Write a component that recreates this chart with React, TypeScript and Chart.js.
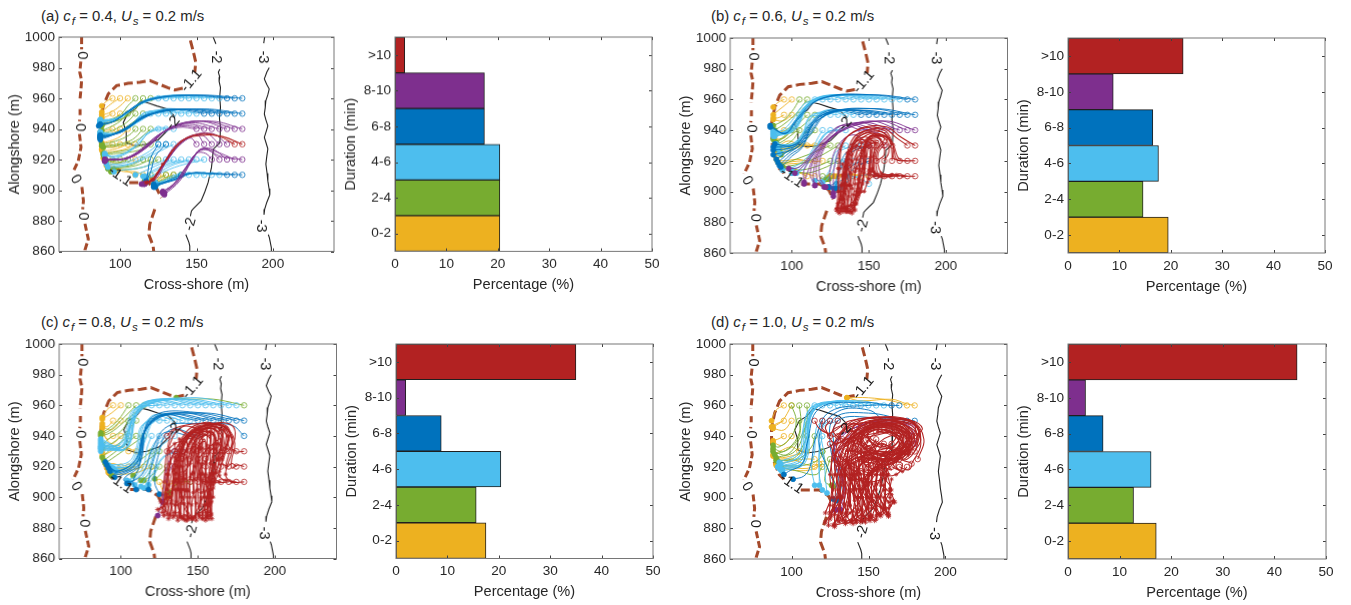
import React, { useEffect, useRef } from "react";
import { Chart, registerables } from "chart.js";
Chart.register(...registerables);

const FONT = "'Liberation Sans', Arial, sans-serif";
const INK = "#262626";
const durationLabels = ["0-2", "2-4", "4-6", "6-8", "8-10", ">10"];
const barColors = ["#EDB120", "#77AC30", "#4DBEEE", "#0072BD", "#7E2F8E", "#B22222", "#B22222"];
const pctA = [20.4, 20.4, 20.4, 17.4, 17.4, 1.9];
const pctB = [19.5, 14.6, 17.6, 16.5, 8.8, 22.4];
const pctC = [17.5, 15.6, 20.4, 8.8, 1.9, 35];
const pctD = [17.1, 12.7, 16.1, 6.8, 3.4, 44.4];
const mapXTicks = [100, 150, 200];
const mapYTicks = [860, 880, 900, 920, 940, 960, 980, 1000];

const zeroContour = [
  [74.8,1000,74.8,992],
  [74.3,984,73.6,977,74.8,971.6,74.3,965,73.6,958],
  [73.8,953,73.8,949],[73.5,946,73.4,945],
  [73.4,936.6,74.4,928,72.6,919,69,911.5],
  [75,902,76,893,75.5,887.5],
  [77,878,79.2,868,77,861,77,860],
];
const shallowContour = [
  [146,997.8,147.8,991,149.5,983.6,148.9,977],
  [141,966.5,135.8,965.5,131.5,966.8,125,969.4,119.5,971.6,113,970.5,105.3,969.8,97.7,968.3,92.2,962.8,89,955,87,945,87,935,88,925,92,915,95,912],
  [106,905,113,905,118,905,124,901,127,895],
  [122.7,887.5,119.4,877.7,118.8,871,121.6,863.5,122,860],
];
const midContour = [
  [160.9,1000,162.7,995.6],
  [165.3,979,164.3,977,165.2,974,164.8,971,165.7,967,165.2,961,165.7,954,165,947,165.7,941,165.3,931,161,926.8,160.5,921,159.8,914.8,157.6,905,155.5,899,153,893,148,888,146.7,886.4,146,883],
  [143,871,145,866,145.6,863.5,145.6,860],
];
const midPatch = [[104,931,110,929,117,930,125,933,132,940],[136,948,131,953,124,955,118,957,114,958,110,953,105,950,102,944,104,938,104,931]];
const deepContour = [
  [194.6,1000,194,996],
  [197.6,980,196,977,194.4,972.7,196,969,197.6,966,196.6,962,195.4,958.5,195,954,194.4,949.7,195.4,946,196.7,942,195.5,938,194.4,934.5,195.5,931,196.7,927,196,922,195.4,917,196.2,911,196.7,906,197.5,901,198,897,196,892,194.6,887.5,194.2,884],
  [197,871,197.7,869,199,862.4,199,860],
];
const labelText = ["0","0","0","0","-2","-2","-3","-3","-1.1","-1.1","-2"];
const labelX = [74.8,73.6,71,76,162.6,146,193.5,192.5,146.7,100,134.7];
const labelY = [988,941,907,883,987,877.7,987,876.6,971.5,909,944];
const labelDeg = [90,90,60,90,90,-75,90,90,-50,35,-50];

const aY = [
[95,960,91,958,88,955],[100,960,95,957,90,953,88,951],[105,960,100,955,94,951,88,949],[95,950,91,948,88,947],[100,950,95,946,90,944,88,943],
[95,940,91,939,87,938],[100,940,95,937,89,936,87,934],[105,940,100,935,93,932,88,931],[95,930,91,929,88,929],[100,930,96,928,90,928,88,927],
[105,930,100,928,93,926,88,926],[110,930,104,927,95,925,89,924],[110,910,103,913,97,914,94,914],[95,920,92,920,89,921],[115,910,110,912,104,912,98,913],
[125,910,122,909,120,907],[130,910,125,908,122,905],[135,910,129,908,124,905],[110,920,102,918,94,917,91,916],
];
const aG = [
[110,960,105,955,100,949,90,945,88,944],[115,960,108,953,102,947,92,944,88,943],[120,960,112,955,104,948,94,944,88,942],[105,950,100,945,93,941,88,939],
[110,950,104,944,95,939,88,937],[115,950,108,944,98,938,88,936],[110,940,106,936,97,932,88,930],[115,940,108,933,98,930,88,929],[120,940,110,932,98,929,89,928],
[115,930,108,927,97,925,89,924],[120,930,112,926,98,924,89,923],[100,920,95,919,90,921],[105,920,98,918,91,919],[115,920,106,916,95,915,92,914],
[120,920,110,916,96,914],[125,920,115,915,100,913,94,912],[120,910,117,908,116,906],[130,910,125,907,123,905],[135,910,128,906,124,904],[140,910,133,908,126,906,124,904],
];
const aL = [
[125,960,116,958,107,952,97,946,87,946],[130,960,118,959,108,953,98,947,87,946],[135,960,120,960,109,954,98,947,87,945],[140,960,124,961,110,955,99,947,87,945],
[145,960,127,961,111,955,99,947,87,945],[150,960,130,961,112,956,100,947,87,944],[155,960,133,962,113,956,100,948,87,944],[160,960,136,962,114,957,100,948,87,944],
[165,960,140,962,115,957,101,948,87,944],[120,950,113,948,105,940,95,937,87,938],[125,950,115,950,106,941,95,937,87,938],[130,950,117,951,107,942,96,937,87,937],
[135,950,120,951,108,942,96,937,87,937],[140,950,122,952,109,943,96,937,87,936],[145,950,125,952,110,944,97,937,87,936],[150,950,128,953,111,944,97,937,87,936],
[125,940,116,936,106,926,96,922,90,924],[130,940,120,938,108,927,96,922,90,923],[135,940,122,940,110,928,97,921,90,923],[125,930,117,924,106,919,96,917,90,919],
[130,930,120,924,108,918,97,916,91,917],[135,930,123,924,110,918,98,915,92,915],[130,920,122,917,110,914,100,913,96,912],[135,920,126,917,115,912,110,910],
[140,920,130,917,120,912,115,909],[145,920,133,917,122,912,116,909],[150,920,136,917,124,911,117,908],[155,920,139,916,126,911,117,907],
[145,910,136,910,128,906,123,905],[150,910,140,911,130,906,123,905],[155,910,143,911,131,906,124,904],[160,910,146,911,132,906,124,904],[165,910,148,911,133,906,124,904],
];
const aB = [
[170,960,145,962,118,959,104,951,96,945,87,943],[175,960,150,962,120,959,105,951,96,945,87,943],[180,960,155,962,122,960,106,952,96,945,86,942],
[160,950,135,953,115,947,103,939,94,936,87,935],[165,950,140,953,116,948,104,940,94,936,87,935],[170,950,145,953,117,949,104,941,94,936,87,934],
[175,950,150,953,118,949,105,941,95,936,87,934],[180,950,155,953,120,950,106,942,95,936,87,933],[170,910,155,911,145,911,135,907,126,904,122,903],
[175,910,158,911,146,911,136,907,127,904,122,902],[180,910,160,911,147,911,137,907,127,904,123,902],[155,950,132,953,113,946,103,939,94,936,87,936],
[140,910,135,908,128,905,122,904],[125,930,120,921,118,911,117,905],[130,930,123,922,120,912,117,906],
];
const aP = [
[150,940,138,941,125,936,114,927,104,921,95,920,90,920],[155,940,140,942,127,937,115,927,104,921,95,920,90,920],[160,940,143,943,128,938,116,928,105,921,95,920,90,920],
[165,940,147,944,130,939,117,928,105,921,95,920,90,920],[170,940,152,945,132,940,118,929,106,921,95,920,90,919],[175,940,155,945,133,941,119,929,106,921,95,920,90,919],
[180,940,160,945,135,942,120,930,106,921,95,920,90,919],[150,930,146,934,137,930,128,917,121,907,114,904],[155,930,150,936,139,931,129,918,122,907,115,904],
[160,930,153,936,141,932,130,918,122,908,115,904],[165,930,156,937,143,933,130,919,123,908,116,904],[170,930,160,937,145,934,131,920,124,908,116,904],
[160,920,156,924,150,924,143,915,135,904,128,899],[165,920,158,926,151,925,144,916,136,905,128,899],[170,920,160,927,152,926,145,917,137,905,128,898],
[175,920,163,925,153,927,146,918,138,906,129,898],[180,920,166,922,154,927,147,919,139,906,129,897],
];
const aR = [[175,930,165,935,155,937,140,932,128,917,121,907,117,905],[180,930,167,935,157,936,142,933,129,918,122,907,118,905]];

const bY = [
[95,960,91,958,88,955],[100,960,94,955,89,951,88,950],[95,950,91,948,88,948],[100,950,94,946,88,947],[95,940,91,938,89,936],[100,940,95,935,89,934],
[105,930,98,933,92,930,89,928],[110,930,103,932,95,929,89,927],[115,930,105,930,95,928,89,927],[120,930,108,930,95,926,90,925],[110,920,103,921,95,920,90,921],
[115,920,106,920,96,919,91,919],[120,920,110,919,98,918,92,918],[110,910,103,913,98,915],[115,910,108,912,102,913],[130,910,126,910,122,908],[135,910,129,910,123,909],
[140,910,133,911,125,910],[145,910,136,911,127,910],[150,910,140,911,128,910],
];
const bG = [
[105,960,100,952,94,946,88,943],[110,960,103,951,95,944,89,940],[105,950,100,943,93,938,88,934],[110,950,103,943,95,936,89,932],[115,950,106,942,96,934,89,930],
[100,940,96,936,90,932],[105,940,100,933,92,929],[110,940,102,931,92,926],[115,940,105,930,93,924],[125,930,113,925,100,920,93,917],[130,930,118,923,105,918,94,916],
[125,920,115,916,104,914,94,916],[130,920,120,915,108,912,94,916],[120,910,118,907,122,908],[125,910,124,908,124,908],
];
const bL = [
[115,960,108,957,100,946,94,940,88,939],[120,960,112,958,102,946,95,939,88,939],[125,960,113,959,103,946,96,939,88,939],[130,960,114,960,103,947,96,939,88,939],
[135,960,120,962,106,952,98,940,88,938],[140,960,122,962,108,955,99,940,88,938],[145,960,125,963,110,957,100,940,88,938],[150,960,128,963,111,957,100,940,88,937],
[155,960,130,963,112,958,101,940,88,937],[160,960,133,963,112,958,101,940,88,937],[165,960,137,963,113,958,101,940,88,936],[170,960,142,963,113,958,102,940,89,936],
[120,950,111,948,107,936,100,931,90,931],[125,950,113,950,107,938,100,931,90,930],[130,950,116,951,108,939,101,931,90,929],[135,950,120,952,110,940,102,931,91,928],
[140,950,122,953,110,942,103,931,92,925],[120,940,117,935,112,925,105,918,98,915,94,914],[125,940,120,936,113,925,106,917,100,914],[130,940,122,938,114,925,107,916,100,912],
[135,940,124,939,115,926,108,915,103,912],[135,930,128,925,125,915,120,908,115,907],[140,930,130,925,127,914,122,907,120,906],[130,920,133,915,137,910,130,903],
[135,920,135,914,137,908,131,902],[140,920,136,914,136,906,129,901],[155,910,150,911,140,909,133,903],[150,905,145,908,137,910,129,905],
];
const bB = [
[175,960,150,963,118,960,103,947,96,938,86,943],[180,960,155,963,120,961,104,947,96,938,86,942],[165,950,140,953,118,949,108,936,100,930,89,931],
[170,950,145,953,120,950,109,936,101,930,88,929],[175,950,150,954,122,950,110,936,101,929,88,927],[180,950,155,954,124,951,111,936,102,928,88,924],
[145,950,125,953,112,944,105,932,97,926,90,921],[150,950,128,953,113,944,106,931,98,925,91,919],[155,950,132,953,114,944,107,930,99,924,92,917],[160,950,135,953,115,945,107,929,100,923,93,916],
[145,930,135,925,130,912,128,906,124,903],[150,930,138,925,131,913,129,905,127,902],[145,920,137,915,132,905,128,902,124,903],[150,920,139,914,133,904,129,902],
];
const bP = [
[145,940,132,943,122,935,113,925,105,916,98,915],[150,940,135,944,124,936,114,925,106,915,102,912],[155,940,138,944,126,936,115,925,108,914,108,906],
[160,940,142,945,127,937,116,925,110,912,108,905],[165,940,146,945,128,937,117,925,112,912,115,904],[170,940,150,946,129,938,118,926,114,912,115,904],
[175,940,156,946,130,938,119,926,116,910,121,903],[180,940,160,946,131,939,120,926,118,910,122,903],[150,930,140,937,130,930,125,915,125,905,127,899],[160,930,150,940,135,935,128,918,127,908,127,897],
];
const bR = [
[175,930,168,935,160,941,145,941,133,932,130,915,130,900,129,888],[180,930,170,936,162,942,147,942,134,933,131,915,131,900,130,887],
[180,920,170,921,166,930,160,940,145,938,137,925,134,905,132,888],[175,920,168,921,165,932,158,939,144,936,138,922,135,905,133,887],
[170,920,166,922,165,932,156,938,146,935,139,922,136,904,134,889],[165,920,165,925,163,934,155,937,147,933,140,920,137,904,135,888],
[160,920,163,926,161,934,154,936,148,931,141,918,138,904,136,887],[155,920,160,924,158,933,152,936,147,928,142,915,139,902,138,887],
[180,910,172,910,165,911,158,912,156,925,162,934,152,937,145,925,143,908,140,888],[175,910,168,911,162,910,156,911,155,925,160,935,150,935,145,920,143,905,139,890],
[170,910,164,910,158,910,154,912,154,925,158,934,149,933,146,918,143,902,140,891],[165,910,160,910,156,910,153,913,153,925,156,933,148,931,146,915,142,900,141,888],
[160,910,157,910,154,911,152,915,152,927,155,932,148,928,147,912,143,898,139,886],[155,910,153,910,151,913,151,920,152,930,150,930,148,918,146,905,142,892,137,887],
[150,910,150,912,150,918,151,928,148,930,147,918,144,900,136,889],[165,930,160,938,150,940,140,935,135,920,134,905,132,890,131,886],
[160,930,155,937,148,938,140,932,136,918,134,900,130,892],[155,930,150,935,145,935,138,928,135,915,133,900,135,887],[150,930,146,934,140,930,136,915,134,900,132,889],
[145,928,142,930,137,925,134,912,132,895,136,888],[140,930,136,925,133,910,131,895,130,889],
];
const bTails = [
[133,918,133,911,132,904,132,898,131,893,129,889],[136,925,136,917,135,910,135,902,134,895,134,889],[139,928,139,920,138,912,138,904,137,897,136,890],
[142,930,142,921,141,913,141,905,140,898,138,891],[145,932,145,923,144,914,144,906,143,899,141,892],[148,932,148,923,147,915,146,907,145,900,142,895],
[151,932,151,922,150,914,149,906,147,900],[154,932,153,923,152,914,150,908],
];

const cY = [
[95,960,91,957,88,952],[100,960,94,955,88,951],[95,950,91,946,88,948],[100,950,94,944,88,946],[95,940,91,938,88,945],[100,940,94,935,88,942],
[105,930,97,934,90,931,88,929],[110,930,100,933,92,929,88,927],[115,920,107,918,97,917,91,919],[110,920,103,919,96,917,92,917],[105,920,99,919,92,918],[120,920,110,916,98,915,92,916],
[100,920,95,922,91,921],[130,910,130,906,131,902],[135,910,131,907,132,901],[140,910,133,906,130,900],[125,910,127,905,129,902],
];
const cG = [
[105,960,98,950,91,944,87,942],[110,960,100,950,92,943,87,941],[115,960,102,949,93,942,87,940],[105,950,100,943,92,938,88,934],[110,950,103,942,94,935,88,932],
[105,940,100,936,92,930,88,926],[110,940,102,934,93,927,89,924],[115,940,104,932,94,925,90,922],[120,930,112,924,103,919,94,914],[125,930,115,922,108,914],[120,920,118,915,113,911],
[125,920,120,914,115,911],[130,920,125,914,122,912],[180,960,160,964,145,964,136,965],[145,910,138,910,132,903],
];
const cL = [
[120,960,108,957,103,942,98,934,88,934],[125,960,110,958,104,942,99,934,87,933],[130,960,112,960,105,943,100,933,87,932],[135,960,115,962,106,946,100,933,87,931],
[140,960,118,963,107,950,101,933,87,930],[145,960,120,963,108,952,101,933,87,938],[150,960,123,964,109,954,102,933,87,937],[155,960,126,964,110,955,102,933,87,936],
[160,960,130,964,111,955,103,932,87,935],[165,960,135,964,112,956,103,932,87,934],[170,960,140,964,113,957,103,932,87,933],[175,960,145,965,113,958,104,932,87,932],
[120,950,113,946,110,932,105,923,92,921],[125,950,115,948,111,932,106,922,93,920],[130,950,117,950,112,932,107,921,94,919],[135,950,120,953,113,933,108,921,95,919],
[140,950,123,953,114,934,108,920,96,918],[145,950,125,954,115,935,109,919,97,917],[120,940,117,932,115,921,110,914,104,911],[125,940,120,932,117,921,112,914,106,910],
[130,940,122,932,119,921,114,913,109,908],[135,940,125,932,120,920,116,912,113,907],[135,930,127,926,121,916,117,910,115,906],[140,930,128,926,122,915,118,908],
];
const cB = [
[155,950,128,954,115,942,110,925,98,917,90,923],[160,950,132,954,116,944,110,925,98,917,91,921],[165,950,136,955,117,946,111,924,99,916,92,919],[170,950,140,955,118,948,111,923,99,915,93,917],
[175,950,148,955,119,950,112,922,100,914,96,913],[180,950,155,955,120,952,112,921,102,912,104,909],[180,940,172,947,150,948,130,946,120,930,114,915,105,909],
[150,950,125,953,114,938,112,920,108,910,110,905],[145,940,128,942,122,928,118,910,118,905],[150,940,132,944,124,926,122,910,125,902],
];
const cP = [[135,930,130,920,128,908,127,897],[140,930,132,918,129,905,124,888]];
const cR = [
[180,930,173,930,172,938,168,946,155,947,142,940,133,925,130,905,128,888],[175,930,170,933,170,940,165,947,152,946,141,938,134,920,131,900,131,886],
[170,930,168,934,168,942,162,948,150,945,140,935,135,915,133,898,134,887],[165,930,166,936,165,943,158,947,148,943,140,932,136,912,135,895,137,885],
[160,930,163,936,162,943,155,945,146,941,140,930,137,910,137,895,140,886],[155,930,158,935,158,942,150,944,143,938,139,925,138,905,138,890,142,885],
[150,930,153,935,150,942,144,940,140,930,138,915,139,900,144,887],[145,930,148,934,145,940,140,935,138,920,140,900,146,886],
[180,920,176,921,172,919,172,925,174,935,170,944,160,948,146,944,137,930,134,905,130,889],[175,920,172,922,168,919,170,928,172,938,165,947,152,945,140,933,135,910,132,888],
[170,920,166,922,166,930,170,938,162,946,150,942,141,928,137,905,135,890],[165,920,163,925,165,935,160,945,148,940,141,926,139,905,139,887],
[160,920,160,927,162,936,156,943,147,938,142,924,141,905,141,888],[155,920,157,928,158,938,152,941,146,933,143,920,143,900,144,886],
[180,910,172,910,168,915,172,930,172,940,165,947,150,943,142,930,140,905,138,888],[175,910,168,911,164,914,168,930,169,940,160,946,150,940,144,926,143,905,143,885],
[170,910,164,910,160,915,164,930,165,941,156,945,148,936,145,920,145,900,146,887],[165,910,160,910,157,913,160,930,161,941,152,942,148,932,147,916,148,900,149,885],
[160,910,156,910,155,915,157,930,158,940,150,938,149,925,150,905,151,887],[155,910,152,911,152,920,155,932,154,938,150,930,151,915,152,900,153,886],
[150,910,148,912,150,925,152,935,150,932,152,915,154,900,155,887],[145,910,146,915,150,928,152,932,153,915,155,900,157,886],
[140,915,145,922,150,933,155,936,155,915,157,900,158,888],[155,925,162,938,155,942,150,930,155,910,157,890],[150,925,160,935,165,938,160,925,158,905,159,886],
[145,925,152,938,160,942,160,925,158,905,156,890],[140,925,148,940,158,945,162,925,157,900,155,885],[135,930,145,945,160,948,167,935,158,915,158,895,150,889],
[130,930,135,935,140,936,135,920,132,900,127,893],[135,920,137,928,135,930,130,915,128,895,124,892],[130,940,135,945,150,948,170,945,165,925,158,910,147,886],
[140,930,142,938,155,947,172,947,173,935,160,920,155,895,153,889],[145,940,135,944,130,930,128,910,126,897],[150,945,140,946,132,935,130,915,127,890],
];
const cTails = [
[132,930,132,922,131,915,131,908,130,902,130,896,129,891],[135,935,135,926,134,918,134,910,133,903,133,896,132,889],[138,938,138,928,137,920,137,912,136,905,136,897,135,888],
[140,936,141,928,140,920,140,912,139,904,139,896,138,887],[143,940,143,930,143,921,142,912,142,904,141,896,141,886],[146,942,146,932,145,922,145,913,144,904,144,896,143,888],
[148,940,148,930,148,920,147,911,147,903,146,895,146,886],[151,944,151,933,150,923,150,913,149,904,149,896,148,887],[153,942,153,932,153,922,152,912,152,903,151,894,151,888],
[156,945,156,934,155,923,155,913,154,904,154,895,153,886],[158,943,158,932,158,922,157,912,157,903,156,895,156,887],[161,945,160,934,160,924,159,915,159,905,158,896,158,888],
[164,945,163,935,162,925,161,916,160,906,159,897,159,889],[167,944,165,934,164,925,162,916,160,908,160,900],[170,940,168,932,166,925,164,917,161,910],
];

const dY = [
[95,960,90,957,87,950],[100,960,94,950,88,946],[95,950,90,948,87,946],[100,950,95,944,88,945],[95,940,91,938,88,937],[100,940,94,934,88,936],
[105,930,100,933,92,930,88,928],[110,930,103,928,94,926,88,927],[115,925,108,925,97,923,90,922],[118,922,110,919,98,920,90,921],[120,922,112,918,100,918,91,920],
[115,920,108,922,100,925,90,925],[180,960,175,961,165,964,145,963,136,965],[175,960,165,963,150,965,136,965],
];
const dG = [
[100,960,103,950,100,940,92,933,88,934],[105,960,106,950,104,938,95,930,88,932],[110,960,110,950,105,938,97,928,88,930],[105,950,105,942,98,932,89,928],
[110,950,108,942,102,930,90,926],[110,940,108,935,102,926,90,924],[115,940,113,933,104,925,91,924],[120,930,118,925,108,921,92,921],[120,920,116,915,105,917,93,920],
[125,925,122,915,122,910,126,908],[120,930,124,918,128,910,127,907],
];
const dL = [
[115,960,110,955,107,942,105,930,92,923],[120,960,112,958,108,945,106,928,93,922],[125,960,114,960,110,950,106,928,92,921],[130,960,117,961,111,952,106,926,91,920],
[135,960,120,962,112,954,107,925,91,920],[140,960,124,962,113,955,107,925,92,919],[145,960,128,963,113,955,108,924,93,919],[150,960,132,963,114,956,108,924,93,918],
[155,960,136,963,114,957,108,923,94,918],[160,960,142,963,115,957,109,923,94,917],[120,950,116,945,115,930,113,920,115,908],[125,950,118,945,118,930,118,915,120,905],
[130,950,120,945,121,928,122,913,123,903],[120,940,118,930,118,917,118,908],
];
const dB = [
[165,960,145,962,118,958,110,935,107,922,98,917,95,915],[170,960,150,960,125,956,116,940,112,920,108,914,101,912],[160,950,150,957,130,956,118,940,125,915,130,905,127,899],
[175,950,150,955,128,952,125,935,130,915,131,905,129,898],[180,950,155,952,130,950,128,930,133,915,132,905,131,899],
];
const dP = [
[178,940,180,946,165,950,140,945,127,930,131,915,134,905,128,892],[180,935,182,945,170,951,145,947,128,935,132,915,135,903,132,892],[175,935,178,945,165,949,140,942,130,925,134,910,133,898,129,892],
];
const dR = [
[180,930,184,938,180,948,165,951,148,948,135,935,128,915,125,895,124,882],[175,930,182,936,182,946,168,952,150,949,136,936,130,915,128,895,128,881],
[170,920,176,918,178,922,172,925,180,934,180,945,165,950,148,946,136,932,132,910,132,890,135,884],[175,920,172,917,168,920,170,926,178,932,178,944,162,950,146,944,137,930,134,908,136,888,140,883],
[165,920,170,918,166,922,174,930,176,942,160,948,145,942,138,928,137,905,140,888,145,884],[160,920,165,918,162,923,172,932,174,942,157,947,143,940,139,926,140,905,143,888,148,884],
[155,920,158,918,160,925,170,934,172,942,155,946,142,938,140,924,142,905,147,888,150,886],[150,920,153,919,158,926,168,935,170,942,153,945,142,935,142,922,145,905,150,888,154,885],
[150,932,160,928,172,935,168,944,150,944,143,932,145,915,150,900,156,889],[148,930,160,925,170,932,165,943,148,942,145,930,148,912,153,898,158,888],
[170,945,175,940,170,930,155,928,145,935,150,945,168,945,175,935,160,925,148,920,150,900,160,892,163,888],[172,948,178,940,172,928,155,926,143,935,150,947,170,947,178,935,162,923,152,915,157,900,163,893,166,897],
[165,945,170,938,162,932,152,936,150,942,160,944,170,935,158,922,150,912,155,900,160,890],[160,944,168,940,160,933,151,937,150,943,165,943,172,933,155,920,146,910,150,897,157,889],
[155,943,165,942,172,938,165,930,150,930,145,940,155,948,172,942,168,925,152,916,146,900,152,888],[150,947,165,948,178,940,168,926,150,925,140,938,150,950,175,945,170,925,155,918,143,900,146,885],
[125,950,122,945,130,935,145,950,165,952,182,945,175,928,155,925,140,925,138,905,135,890,130,886],[120,950,120,945,128,940,140,950,160,952,180,948,172,930,150,928,135,920,133,900,128,889],
[115,950,118,945,125,942,138,950,158,951,176,945,168,930,148,930,133,920,130,900,125,890],[125,940,128,945,140,948,155,944,170,938,175,930,155,930,138,925,132,900,122,884],
[130,950,127,943,135,938,150,945,170,948,182,940,175,925,155,927,140,915,135,895,127,882],[135,945,140,948,160,948,178,938,170,925,150,925,139,912,138,895,133,885],
[130,940,135,935,145,945,165,948,178,936,165,924,148,925,140,905,142,890,138,884],[135,935,140,930,150,942,168,946,175,934,160,922,145,922,145,900,146,885],
[140,930,145,925,152,940,168,944,172,930,155,920,148,908,150,893,151,885],[145,925,150,920,157,936,170,940,168,925,152,918,150,905,155,892,155,886],
[170,930,176,938,170,947,150,945,130,930,125,915,127,900,126,888],[180,940,185,945,178,950,155,950,132,942,126,925,127,905,122,890],
[182,925,186,938,178,950,155,952,135,945,128,925,130,905,125,886],[178,922,184,935,178,948,150,948,132,935,128,920,132,900,130,885],
[178,930,172,925,160,935,150,932,140,935,135,915,138,895,142,884],[165,935,155,925,145,930,138,938,137,920,142,900,148,886],
[160,935,150,925,142,930,135,930,140,915,146,900,152,888],[155,938,148,928,140,925,136,922,145,912,152,900,160,893],
[150,938,145,930,150,920,158,925,162,915,160,905,163,897,166,898],[145,938,150,930,157,922,162,915,164,905,160,895,163,889],
[140,940,148,932,155,925,160,918,158,910,165,902,167,897],[138,945,146,938,152,928,158,915,155,905,160,893,157,889],
[135,925,140,918,150,915,158,918,160,908,155,895,152,887],[130,925,138,912,148,912,155,920,152,900,146,888,142,885],
[128,930,135,915,145,905,155,915,150,895,140,885,135,883],[125,935,133,915,143,900,150,910,145,892,135,884,128,882],
[170,925,160,915,165,905,160,900,163,888],[155,935,148,925,142,915,145,900,138,890,133,886],
[175,942,165,947,150,945,138,938,130,930,138,922,150,928,162,932,172,930],[178,938,168,942,150,941,136,934,127,926,137,919,150,924,164,928,176,928],
[130,922,140,928,155,935,170,932,180,937,172,948,155,946,140,940,129,935],[132,918,142,924,156,930,168,928,176,932,170,942,152,940,137,936],
[133,938,145,936,155,930,165,924,172,922,168,915,155,915,140,920,132,927],[136,944,148,940,158,934,166,930,160,920,148,918,136,924],
[135,930,145,930,158,922,163,915,150,910,138,915,133,922],[142,946,150,938,156,926,150,915,140,912,134,918],
];
const dTails = [
[132,915,132,908,131,901,131,895,130,888,128,883],[135,918,135,910,135,903,134,896,133,890,131,884],[138,920,138,912,138,904,137,897,136,890,135,885],
[141,922,141,914,141,906,141,898,140,891,139,885],[144,924,144,916,144,908,143,900,143,892,142,884],[147,925,147,917,147,908,146,900,146,892,145,885],
[150,926,150,918,149,910,149,901,149,893,148,886],[153,926,153,918,152,909,152,901,152,893,151,887],[156,925,156,917,155,909,155,901,155,894,155,888],
[159,924,159,916,158,908,158,901,158,894,158,889],[162,918,161,912,161,905,161,898,161,893,162,889],[165,912,164,906,164,900,164,895,163,890],
];
const noTails: number[][] = [];

const chunk = (a: number[]) => {
  const out: { x: number; y: number }[] = [];
  for (let i = 0; i < a.length; i += 2) out.push({ x: a[i], y: a[i + 1] });
  return out;
};

const frameTicks = {
  id: "frameTicks",
  afterDraw(chart: any) {
    const { ctx, chartArea: c, scales } = chart;
    ctx.save();
    ctx.strokeStyle = "#404040";
    ctx.lineWidth = 1;
    const len = 3;
    const xs = scales.x, ys = scales.y;
    ctx.beginPath();
    xs.ticks.forEach((_: any, i: number) => {
      const p = Math.round(xs.getPixelForTick(i)) + 0.5;
      ctx.moveTo(p, c.bottom); ctx.lineTo(p, c.bottom - len);
      ctx.moveTo(p, c.top); ctx.lineTo(p, c.top + len);
    });
    ys.ticks.forEach((_: any, i: number) => {
      const p = Math.round(ys.getPixelForTick(i)) + 0.5;
      ctx.moveTo(c.left, p); ctx.lineTo(c.left + len, p);
      ctx.moveTo(c.right, p); ctx.lineTo(c.right - len, p);
    });
    ctx.stroke();
    ctx.strokeStyle = "#767676";
    ctx.strokeRect(c.left, c.top, c.right - c.left, c.bottom - c.top);
    ctx.restore();
  },
};

const contourLabels = {
  id: "contourLabels",
  afterDatasetsDraw(chart: any) {
    const { ctx, scales } = chart;
    ctx.save();
    ctx.fillStyle = "#1a1a1a";
    ctx.font = `14.5px ${FONT}`;
    ctx.textAlign = "center";
    ctx.textBaseline = "middle";
    labelText.forEach((t, i) => {
      ctx.save();
      ctx.translate(scales.x.getPixelForValue(labelX[i]), scales.y.getPixelForValue(labelY[i]));
      ctx.rotate((labelDeg[i] * Math.PI) / 180);
      ctx.fillText(t, 0, 0);
      ctx.restore();
    });
    ctx.restore();
  },
};

const baseScale = (title: string, m: { l: number; b: number }, horizontal: boolean) => ({
  title: { display: true, text: title, color: INK, font: { family: FONT, size: 14.6 }, padding: { top: 2.5, bottom: 1.5 } },
  ticks: { color: INK, font: { family: FONT, size: 13.6 }, padding: horizontal ? 5 : 4, maxRotation: 0, autoSkip: false },
  grid: { display: false, drawTicks: false },
  border: { display: false },
  afterFit(s: any) { if (horizontal) s.height = m.b; else s.width = m.l; },
});

const M = { l: 55, b: 44, t: 14, r: 15 };

function place(box: number[]) {
  const [l, t, r, b] = box;
  return { left: l - M.l, top: t - M.t, width: r - l + M.l + M.r, height: b - t + M.t + M.b };
}

function Panel({ box, make }: { box: number[]; make: (c: HTMLCanvasElement) => Chart }) {
  const ref = useRef<HTMLCanvasElement>(null);
  useEffect(() => {
    const chart = make(ref.current!);
    return () => chart.destroy();
  }, []);
  const p = place(box);
  return (
    <div style={{ position: "absolute", left: p.left, top: p.top, width: p.width, height: p.height }}>
      <canvas ref={ref} />
    </div>
  );
}

function makeMap(canvas: HTMLCanvasElement, groups: number[][][]) {
  const datasets: any[] = [];
  const line = (seg: number[], color: string, width: number, dash: number[]) =>
    datasets.push({ data: chunk(seg), showLine: true, pointRadius: 0, borderColor: color, borderWidth: width, borderDash: dash, tension: 0, fill: false });
  zeroContour.forEach((s) => line(s, "#A5492A", 3, [7, 3]));
  shallowContour.forEach((s) => line(s, "#A5492A", 3, [9, 4]));
  midContour.forEach((s) => line(s, "#222", 1.1, []));
  midPatch.forEach((s) => line(s, "#222", 1.1, []));
  deepContour.forEach((s) => line(s, "#222", 1.1, []));
  groups.forEach((g, k) => {
    const color = barColors[k];
    g.forEach((seg) => {
      const pts = chunk(seg);
      const last = pts.length - 1;
      const red = k >= 5;
      datasets.push({
        data: pts,
        showLine: true,
        tension: k === 6 ? 0.15 : 0.4,
        borderColor: color,
        borderWidth: red ? 1.05 : 0.9,
        pointBackgroundColor: pts.map((_, i) => (i === last && !red ? color : "rgba(0,0,0,0)")),
        pointBorderColor: color,
        pointBorderWidth: 0.8,
        pointStyle: pts.map((_, i) => (red && (i > 0 || k === 6) ? "star" : "circle")),
        pointRadius: pts.map((p, i) => {
          if (k === 6) return 2;
          if (i === 0) return 2.7;
          if (i === last) return red ? 2.6 : 2.5;
          return red && p.y < 918 ? 2 : 0;
        }),
      });
    });
  });
  datasets.forEach((d, i) => (d.order = -i));
  return new Chart(canvas, {
    type: "scatter",
    data: { datasets },
    plugins: [contourLabels, frameTicks],
    options: {
      animation: false,
      responsive: true,
      maintainAspectRatio: false,
      layout: { padding: { top: M.t, right: M.r } },
      plugins: { legend: { display: false }, tooltip: { enabled: false } },
      scales: {
        x: { ...baseScale("Cross-shore (m)", { l: M.l, b: M.b }, true), type: "linear", min: 60, max: 240,
          afterBuildTicks: (s: any) => { s.ticks = mapXTicks.map((value) => ({ value })); } },
        y: (() => {
          const b = baseScale("Alongshore (m)", { l: M.l, b: M.b }, false);
          return { ...b, type: "linear", min: 860, max: 1000, ticks: { ...b.ticks, callback: (v: number) => String(v) },
            afterBuildTicks: (s: any) => { s.ticks = mapYTicks.map((value) => ({ value })); } };
        })(),
      },
    } as any,
  });
}

function makeBar(canvas: HTMLCanvasElement, pct: number[]) {
  return new Chart(canvas, {
    type: "bar",
    data: {
      labels: durationLabels,
      datasets: [{ data: pct, backgroundColor: barColors.slice(0, 6), borderColor: "#1f1f1f", borderWidth: 1, borderSkipped: false, barPercentage: 1, categoryPercentage: 1 }],
    },
    plugins: [frameTicks],
    options: {
      indexAxis: "y",
      animation: false,
      responsive: true,
      maintainAspectRatio: false,
      layout: { padding: { top: M.t, right: M.r } },
      plugins: { legend: { display: false }, tooltip: { enabled: false } },
      scales: {
        x: { ...baseScale("Percentage (%)", { l: M.l, b: M.b }, true), type: "linear", min: 0, max: 50, ticks: { ...baseScale("", { l: 0, b: 0 }, true).ticks, stepSize: 10 } },
        y: { ...baseScale("Duration (min)", { l: M.l, b: M.b }, false), type: "category", reverse: true },
      },
    } as any,
  });
}

function Title({ left, top, tag, cf }: { left: number; top: number; tag: string; cf: string }) {
  const sub: React.CSSProperties = { fontStyle: "italic", fontSize: 11.5, position: "relative", top: 4, marginLeft: 1 };
  return (
    <div style={{ position: "absolute", left, top, font: `14.9px ${FONT}`, color: INK, whiteSpace: "pre", lineHeight: "18px" }}>
      {`(${tag}) `}<i>c</i><span style={sub}>f</span>{` = ${cf}, `}<i>U</i><span style={sub}>s</span>{" = 0.2 m/s"}
    </div>
  );
}

export default function App() {
  return (
    <div style={{ position: "absolute", left: 0, top: 0, width: 1351, height: 605, background: "#fff", overflow: "hidden" }}>
      <Title left={41} top={7} tag="a" cf="0.4" />
      <Title left={711} top={7} tag="b" cf="0.6" />
      <Title left={41} top={313} tag="c" cf="0.8" />
      <Title left={711} top={313} tag="d" cf="1.0" />
      <Panel box={[59, 37, 334, 250.5]} make={(c) => makeMap(c, [aY, aG, aL, aB, aP, aR, noTails])} />
      <Panel box={[395, 37, 652, 250.5]} make={(c) => makeBar(c, pctA)} />
      <Panel box={[730, 37.5, 1006.5, 252.5]} make={(c) => makeMap(c, [bY, bG, bL, bB, bP, bR, bTails])} />
      <Panel box={[1068, 37.5, 1325, 252.5]} make={(c) => makeBar(c, pctB)} />
      <Panel box={[59, 343.5, 335.5, 558]} make={(c) => makeMap(c, [cY, cG, cL, cB, cP, cR, cTails])} />
      <Panel box={[396, 343.5, 653, 558]} make={(c) => makeBar(c, pctC)} />
      <Panel box={[730, 344, 1007, 559]} make={(c) => makeMap(c, [dY, dG, dL, dB, dP, dR, dTails])} />
      <Panel box={[1068, 344, 1326, 559]} make={(c) => makeBar(c, pctD)} />
    </div>
  );
}
